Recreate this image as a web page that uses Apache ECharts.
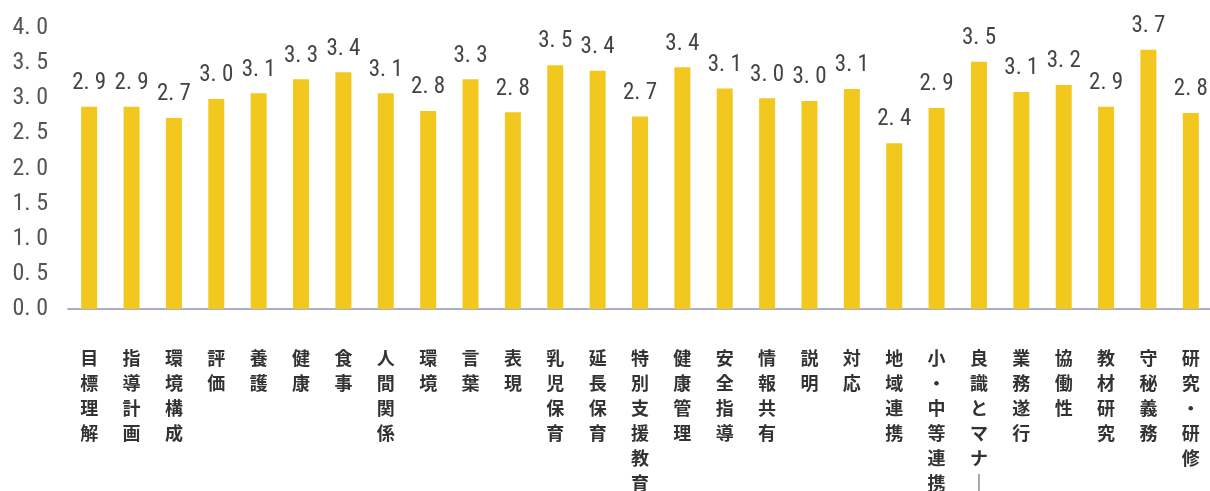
<!DOCTYPE html>
<html><head><meta charset="utf-8">
<script src="https://cdn.jsdelivr.net/npm/echarts@6/dist/echarts.min.js"></script>
<style>html,body{margin:0;padding:0;background:#fff}#c{width:1210px;height:491px}</style>
</head><body><div id="c"></div>
<script>
const categories = ['目標理解','指導計画','環境構成','評価','養護','健康','食事','人間関係','環境','言葉','表現','乳児保育','延長保育','特別支援教育','健康管理','安全指導','情報共有','説明','対応','地域連携','小・中等連携','良識とマナ｜','業務遂行','協働性','教材研究','守秘義務','研究・研修'];
const values = [2.88,2.88,2.72,2.99,3.07,3.27,3.37,3.07,2.82,3.27,2.80,3.47,3.39,2.74,3.44,3.14,3.00,2.96,3.13,2.36,2.86,3.52,3.09,3.19,2.88,3.69,2.79];
const yTicks = [0,0.5,1,1.5,2,2.5,3,3.5,4];

const numFont = "'Liberation Sans Narrow','Roboto Condensed','DejaVu Sans Condensed',sans-serif";
const fmt = v => Number(v).toFixed(1).replace('.', '. ');
const chart = echarts.init(document.getElementById('c'));
chart.setOption({
  animation:false,
  grid:{left:68,width:1144,top:28,bottom:182,containLabel:false,outerBoundsMode:'none'},
  xAxis:{type:'category',data:categories,
    axisLine:{lineStyle:{color:'#A9AFC6',width:2}},
    axisTick:{show:false},
    axisLabel:{interval:0,margin:37,color:'#333',fontSize:18,lineHeight:25,fontWeight:'bold',
      fontFamily:"'Noto Sans CJK JP',sans-serif",verticalAlign:'top',
      formatter:v=>v.split('').join('\n')}},
  yAxis:{type:'value',min:yTicks[0],max:yTicks[yTicks.length-1],interval:0.5,
    axisLine:{show:false},axisTick:{show:false},splitLine:{show:false},
    axisLabel:{margin:20,color:'#555',fontSize:24,fontFamily:numFont,formatter:fmt}},
  series:[{type:'bar',data:values,barWidth:16,
    itemStyle:{color:'#F2C81E'},
    label:{show:true,position:'top',distance:12,color:'#444',fontSize:23,fontFamily:numFont,
      formatter:p=>fmt(p.value)}}]
});
</script></body></html>
